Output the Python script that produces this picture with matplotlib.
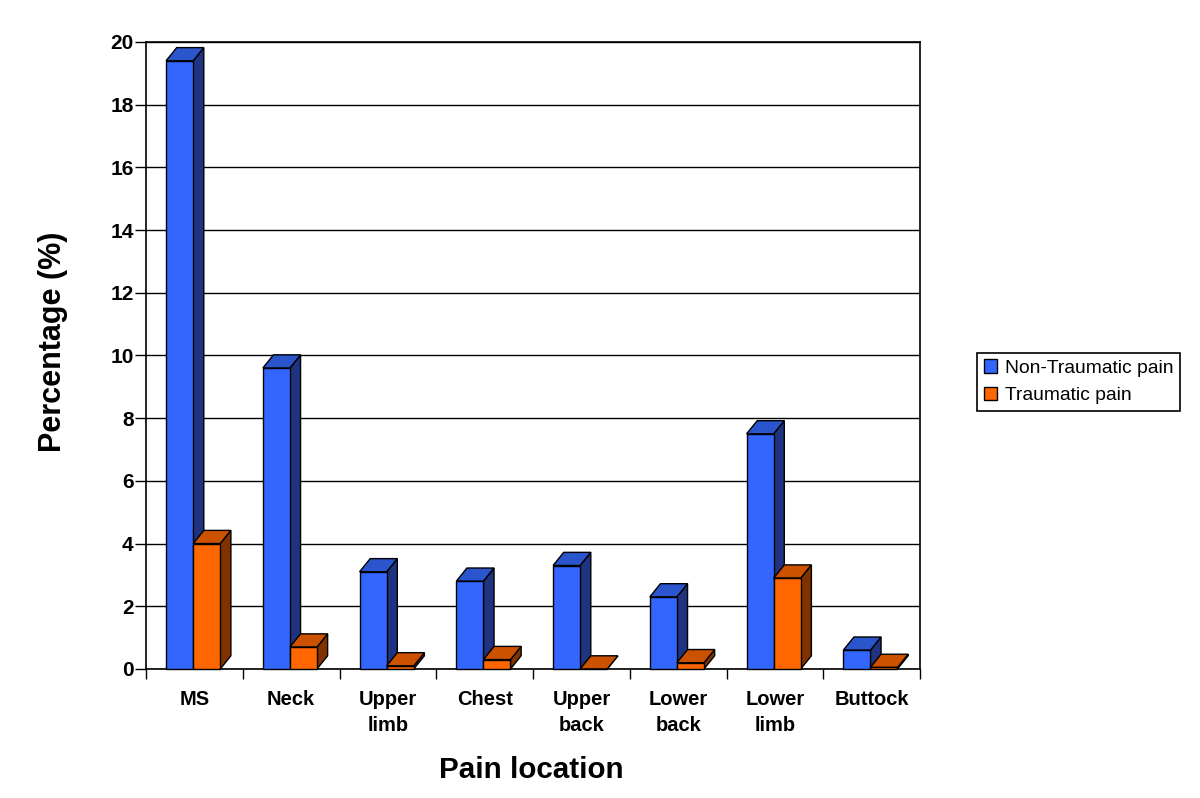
import matplotlib.pyplot as plt
from matplotlib.patches import Polygon, Patch

plt.rcParams['font.family'] = ['Liberation Sans', 'DejaVu Sans']

categories = ['MS', 'Neck', 'Upper\nlimb', 'Chest', 'Upper\nback', 'Lower\nback', 'Lower\nlimb', 'Buttock']
non_traumatic = [19.4, 9.6, 3.1, 2.8, 3.3, 2.3, 7.5, 0.6]
traumatic = [4.0, 0.7, 0.1, 0.3, 0.0, 0.2, 2.9, 0.05]

# front, top, side colours
blue = ('#3366ff', '#2b55cc', '#1f3380')
orange = ('#ff6600', '#cc5200', '#803300')

bar_w = 0.28
dx, dy = 0.11, 0.42  # fake 3d depth


def draw_bar(ax, x0, h, cols):
    front, top, side = cols
    x1 = x0 + bar_w
    ax.add_patch(Polygon([(x1, 0), (x1 + dx, dy), (x1 + dx, h + dy), (x1, h)],
                         closed=True, fc=side, ec='black', lw=1, zorder=3, clip_on=False))
    ax.add_patch(Polygon([(x0, h), (x1, h), (x1 + dx, h + dy), (x0 + dx, h + dy)],
                         closed=True, fc=top, ec='black', lw=1, zorder=3, clip_on=False))
    ax.add_patch(Polygon([(x0, 0), (x1, 0), (x1, h), (x0, h)],
                         closed=True, fc=front, ec='black', lw=1, zorder=3, clip_on=False))


fig = plt.figure(figsize=(12, 7.98), dpi=100)
ax = fig.add_axes([0.1217, 0.1617, 0.645, 0.7857])

for i in range(len(categories)):
    draw_bar(ax, i + 0.207, non_traumatic[i], blue)
    draw_bar(ax, i + 0.207 + bar_w, traumatic[i], orange)

ax.set_xlim(0, len(categories))
ax.set_ylim(0, 20)
ax.set_yticks(range(0, 21, 2))
ax.yaxis.grid(True, color='black', lw=1)
ax.set_axisbelow(True)
for s in ax.spines.values():
    s.set_color('black')
    s.set_linewidth(1.2)

ax.set_xticks([i + 0.5 for i in range(len(categories))])
ax.set_xticklabels(categories, fontweight='bold', fontsize=14.5, va='top', linespacing=1.5)
ax.set_xticks(range(len(categories) + 1), minor=True)
ax.tick_params(axis='x', which='major', length=0, pad=15)
ax.tick_params(axis='x', which='minor', length=7, width=1, direction='out')
ax.tick_params(axis='y', length=8, width=1, direction='out', pad=1, labelsize=15)
for t in ax.get_yticklabels():
    t.set_fontweight('bold')

fig.text(0.044, 0.572, 'Percentage (%)', rotation=90, ha='center', va='center',
         fontsize=22, fontweight='bold')
fig.text(0.4425, 0.035, 'Pain location', ha='center', va='center',
         fontsize=21.3, fontweight='bold')

handles = [Patch(fc=blue[0], ec='black', label='Non-Traumatic pain'),
           Patch(fc=orange[0], ec='black', label='Traumatic pain')]
leg = fig.legend(handles=handles, loc='upper left', bbox_to_anchor=(0.8142, 0.558),
                 fontsize=13.9, fancybox=False, edgecolor='black', framealpha=1,
                 handlelength=0.7, handleheight=0.7, handletextpad=0.4,
                 borderpad=0.35, labelspacing=0.5, borderaxespad=0)
leg.get_frame().set_linewidth(1.2)

fig.savefig('out.png', dpi=100)
